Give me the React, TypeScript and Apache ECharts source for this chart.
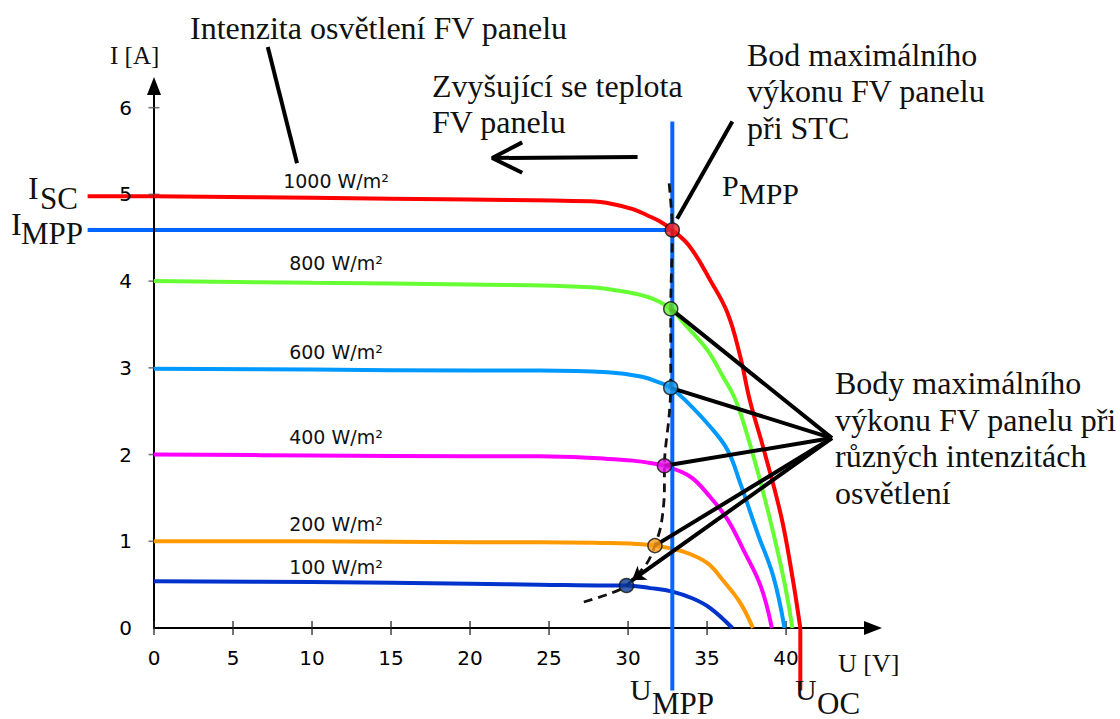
import React, { useEffect, useRef } from "react";
import * as echarts from "echarts";

// ---- axis ticks ----
const xTickValues = [0, 5, 10, 15, 20, 25, 30, 35, 40];
const yTickValues = [0, 1, 2, 3, 4, 5, 6];

// ---- I-V curves [U (V), I (A)] ----
const curve1000 = [
  [0, 4.98], [10, 4.96], [20, 4.94], [27.6, 4.92], [29.0, 4.89], [30.3, 4.83],
  [31.2, 4.76], [32.0, 4.69], [32.8, 4.59], [33.9, 4.4], [35.2, 4.01], [36.3, 3.63],
  [37.1, 3.13], [37.7, 2.63], [38.6, 2.05], [39.7, 1.28], [40.4, 0.59], [40.9, 0.0],
];
const curve800 = [
  [0, 4.0], [10, 3.98], [20, 3.96], [27.6, 3.93], [30.3, 3.86], [31.5, 3.8], [32.7, 3.68],
  [33.7, 3.48], [35.0, 3.21], [36.0, 2.9], [36.8, 2.63], [37.5, 2.25], [38.4, 1.67],
  [39.2, 1.09], [39.9, 0.52], [40.4, 0.0],
];
const curve600 = [
  [0, 2.99], [10, 2.98], [20, 2.97], [24.4, 2.97], [28.7, 2.95], [30.8, 2.9], [32.0, 2.83],
  [32.7, 2.77], [33.6, 2.63], [35.2, 2.32], [36.3, 2.05], [37.1, 1.67], [38.2, 1.09],
  [39.2, 0.59], [39.9, 0.0],
];
const curve400 = [
  [0, 2.0], [10, 1.99], [20, 1.98], [24.4, 1.98], [28.7, 1.95], [30.3, 1.93], [31.5, 1.9],
  [32.3, 1.87], [33.9, 1.75], [35.2, 1.51], [36.3, 1.25], [37.3, 0.9], [38.4, 0.48], [39.1, 0.0],
];
const curve200 = [
  [0, 1.0], [10, 1.0], [20, 0.99], [24.4, 0.99], [28.7, 0.98], [30.5, 0.97], [31.7, 0.95],
  [33.5, 0.88], [35.0, 0.75], [36.0, 0.55], [37.1, 0.29], [37.9, 0.0],
];
const curve100 = [
  [0, 0.54], [10, 0.53], [20, 0.51], [24.4, 0.5], [28.7, 0.49], [29.9, 0.49], [31.4, 0.46],
  [32.8, 0.42], [34.1, 0.34], [35.2, 0.23], [36.6, 0.0],
];

const curveLabels = ["1000 W/m²", "800 W/m²", "600 W/m²", "400 W/m²", "200 W/m²", "100 W/m²"];
const curveColors = ["#ff0000", "#66ff33", "#0099ff", "#ff00ff", "#ff9900", "#0033cc"];
const dotColors = ["#ff1a1a", "#66ee33", "#1a9cf0", "#ee11ee", "#ff9e1a", "#0a3a99"];

// ---- maximum power points ----
const mppU = [32.8, 32.7, 32.7, 32.3, 31.7, 29.9];
const mppI = [4.59, 3.68, 2.77, 1.87, 0.95, 0.49];

// ---- dashed MPP locus ----
const mppLocus = [
  [27.2, 0.3], [28.9, 0.4], [29.9, 0.49], [31.2, 0.75], [31.7, 0.95], [32.1, 1.2],
  [32.3, 1.6], [32.3, 1.87], [32.6, 2.45], [32.7, 2.77], [32.7, 3.68], [32.8, 4.59], [32.6, 5.13],
];

// ---- reference lines ----
const umppLine = [[32.8, 5.84], [32.8, -0.72]];
const imppLine = [[-4.2, 4.59], [32.8, 4.59]];
const iscExtension = [[-4.2, 4.98], [0, 4.98]];
const uocLine = [[40.9, 0.0], [40.9, -0.72]];

// ---- annotation pointers ----
const fanOrigin = [42.9, 2.19];
const pmppPointer = [[36.6, 5.84], [33.1, 4.72]];
const intensityPointer = [[7.2, 6.7], [9.05, 5.36]];
const tempArrowShaft = [[30.6, 5.43], [21.4, 5.42]];
const tempArrowHead = [[23.3, 5.6], [21.4, 5.42], [23.3, 5.25]];

const SERIF = "Liberation Serif";
const SANS = "DejaVu Sans";

function txt(text: string, x: number, y: number, size: number, family = SERIF, align = "left") {
  return {
    type: "text",
    x,
    y,
    silent: true,
    z: 10,
    style: {
      text,
      fill: "#111",
      font: `${size}px "${family}"`,
      fontSize: size,
      fontFamily: family,
      align,
      textAlign: align,
      verticalAlign: "middle",
      textVerticalAlign: "middle",
    },
  };
}

export default function App() {
  const ref = useRef<HTMLDivElement>(null);
  useEffect(() => {
    if (!ref.current) return;
    const chart = echarts.init(ref.current, null, { renderer: "svg" });
    const curves = [curve1000, curve800, curve600, curve400, curve200, curve100];

    const series: any[] = [];
    curves.forEach((c, i) => {
      series.push({
        type: "line",
        name: curveLabels[i],
        data: c,
        smooth: 0.4,
        showSymbol: false,
        clip: false,
        silent: true,
        z: 2,
        lineStyle: { color: curveColors[i], width: 4 },
      });
    });
    series.push({
      type: "line", data: uocLine, showSymbol: false, clip: false, silent: true, z: 2,
      lineStyle: { color: "#ff0000", width: 4 },
    });
    series.push({
      type: "line", data: umppLine, showSymbol: false, clip: false, silent: true, z: 3,
      lineStyle: { color: "#0066ff", width: 4 },
    });
    series.push({
      type: "line", data: mppLocus, smooth: 0.3, showSymbol: false, clip: false, silent: true, z: 4,
      lineStyle: { color: "#111", width: 2.8, type: [9, 6] },
    });
    // crossing axis ticks
    series.push({
      type: "scatter", data: xTickValues.map((v) => [v, 0]), symbol: "rect", symbolSize: [1.6, 14],
      itemStyle: { color: "#222" }, silent: true, clip: false, z: 1,
    });
    series.push({
      type: "scatter", data: yTickValues.slice(1).map((v) => [0, v]), symbol: "rect", symbolSize: [11, 1.6],
      itemStyle: { color: "#555" }, silent: true, clip: false, z: 1,
    });
    // annotation pointers
    const blackLine = { color: "#000", width: 4 };
    mppU.slice(1, 5).forEach((u, k) => {
      series.push({
        type: "line", data: [fanOrigin, [u, mppI[k + 1]]], showSymbol: false, clip: false, silent: true, z: 6,
        lineStyle: blackLine,
      });
    });
    series.push({
      type: "lines", coordinateSystem: "cartesian2d", silent: true, z: 6,
      symbol: ["none", "arrow"], symbolSize: 13,
      lineStyle: { color: "#000", width: 4, opacity: 1 },
      data: [{ coords: [fanOrigin, [mppU[5] + 0.35, mppI[5] + 0.06]] }],
    });
    [pmppPointer, intensityPointer, tempArrowShaft, tempArrowHead].forEach((d) => {
      series.push({
        type: "line", data: d, showSymbol: false, clip: false, silent: true, z: 6,
        lineStyle: blackLine,
      });
    });
    // MPP dots
    series.push({
      type: "scatter",
      data: mppU.map((u, i) => ({ value: [u, mppI[i]], itemStyle: { color: dotColors[i] } })),
      symbolSize: 14,
      silent: true,
      z: 7,
      itemStyle: { borderColor: "#111", borderWidth: 1.5 },
    });

    chart.setOption({
      animation: false,
      grid: { left: 154, right: 247, top: 86, bottom: 91 },
      xAxis: {
        type: "value",
        min: 0,
        max: 45.5,
        axisLine: { lineStyle: { color: "#000", width: 2 }, symbol: ["none", "triangle"], symbolSize: [14, 18] },
        axisTick: { show: false },
        splitLine: { show: false },
        axisLabel: { customValues: xTickValues, margin: 20, fontSize: 20, color: "#000", fontFamily: SANS },
      },
      yAxis: {
        type: "value",
        min: 0,
        max: 6.25,
        axisLine: { lineStyle: { color: "#000", width: 2 }, symbol: ["none", "triangle"], symbolSize: [14, 18] },
        axisTick: { show: false },
        splitLine: { show: false },
        axisLabel: { customValues: yTickValues, margin: 22, fontSize: 20, color: "#000", fontFamily: SANS },
      },
      series,
    });

    const px = (p: number[]) => chart.convertToPixel({ gridIndex: 0 }, p) as number[];
    const lineG = (pts: number[][], color: string, z: number) => {
      const a = px(pts[0]);
      const b = px(pts[1]);
      return {
        type: "line",
        silent: true,
        z,
        shape: { x1: a[0], y1: a[1], x2: b[0], y2: b[1] },
        style: { stroke: color, lineWidth: 4 },
      };
    };

    const labelYs = [181, 263, 352, 437, 524, 567];
    const graphic: any[] = [
      lineG(iscExtension, "#ff0000", 0),
      lineG(imppLine, "#0066ff", 0),
      txt("Intenzita osvětlení FV panelu", 190, 28, 32),
      txt("Zvyšující se teplota", 432, 86, 32),
      txt("FV panelu", 432, 122, 32),
      txt("Bod maximálního", 747, 55, 32),
      txt("výkonu FV panelu", 747, 91, 32),
      txt("při STC", 747, 128, 32),
      txt("Body maximálního", 835, 383, 32),
      txt("výkonu FV panelu při", 835, 419.5, 32),
      txt("různých intenzitách", 835, 456, 32),
      txt("osvětlení", 835, 492.5, 32),
      txt("P", 722, 185, 30),
      txt("MPP", 739, 193, 30),
      txt("I", 28, 188, 32),
      txt("SC", 40, 198, 31),
      txt("I", 11, 224, 32),
      txt("MPP", 21, 233, 31),
      txt("U", 630, 689, 30),
      txt("MPP", 652, 703, 31),
      txt("U", 795, 689, 30),
      txt("OC", 817, 703, 31),
      txt("I [A]", 110, 55, 25),
      txt("U [V]", 838, 663, 26),
    ];
    curveLabels.forEach((l, i) => {
      graphic.push(txt(l, 336, labelYs[i], 19, SANS, "center"));
    });
    chart.setOption({ graphic });
    return () => chart.dispose();
  }, []);
  return <div ref={ref} style={{ position: "absolute", left: 0, top: 0, width: 1120, height: 719 }} />;
}
